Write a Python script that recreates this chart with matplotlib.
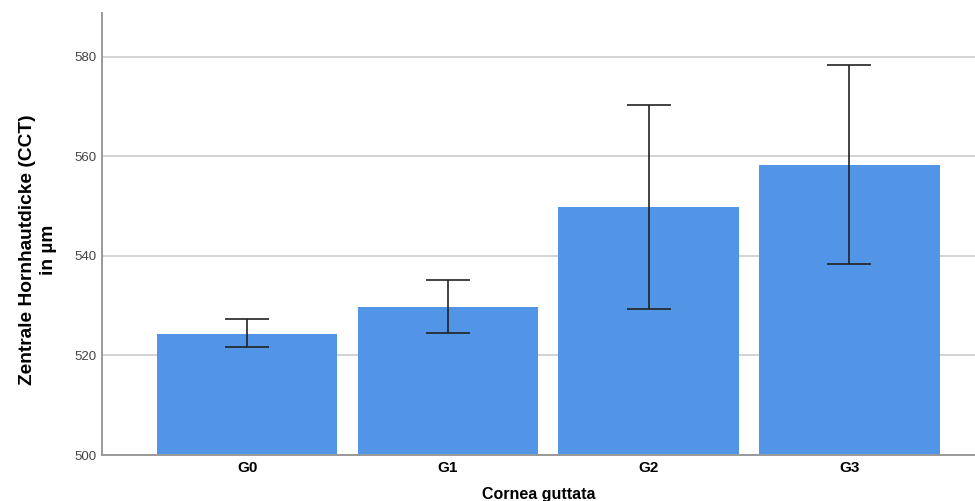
import numpy as np
import matplotlib.pyplot as plt

groups = ['G0', 'G1', 'G2', 'G3']
means = [524.4, 529.8, 549.8, 558.3]
upper = [527.3, 535.2, 570.4, 578.3]
lower = [521.6, 524.5, 529.3, 538.3]

plt.rcParams['font.family'] = ['Liberation Sans', 'DejaVu Sans']

fig = plt.figure(figsize=(9.75, 5.01), dpi=100)
ax = fig.add_axes([102 / 975, 46 / 501, 873 / 975, 442 / 501])

x = np.arange(len(groups))
yerr = [np.array(means) - np.array(lower), np.array(upper) - np.array(means)]
ax.bar(x, np.array(means) - 500, bottom=500, width=0.9, color='#5294e6', zorder=2)
ax.errorbar(x, means, yerr=yerr, fmt='none', ecolor='#222222', elinewidth=1.2,
            capsize=15.5, capthick=1.2, zorder=3)

ax.set_xlim(-0.723, 3.626)
ax.set_ylim(500, 588.8)
ax.set_yticks([500, 520, 540, 560, 580])
ax.set_xticks(x)
ax.set_xticklabels(groups, fontweight='bold', fontsize=11)
ax.tick_params(axis='both', length=0)
ax.tick_params(axis='y', labelsize=9.5, labelcolor='#444444', pad=4)
ax.tick_params(axis='x', pad=4)
ax.yaxis.grid(True, color='#cccccc', linewidth=1.2, zorder=0)
ax.set_axisbelow(True)

for s in ['top', 'right']:
    ax.spines[s].set_visible(False)
for s in ['left', 'bottom']:
    ax.spines[s].set_color('#999999')
    ax.spines[s].set_linewidth(1.4)

ax.set_xlabel('Cornea guttata', fontweight='bold', fontsize=11.5, labelpad=9)
ax.set_ylabel('Zentrale Hornhautdicke (CCT)\nin µm', fontweight='bold', fontsize=13.8,
              linespacing=1.3)
ax.yaxis.set_label_coords(-0.052, 0.464)

fig.savefig('out.png', dpi=100)
